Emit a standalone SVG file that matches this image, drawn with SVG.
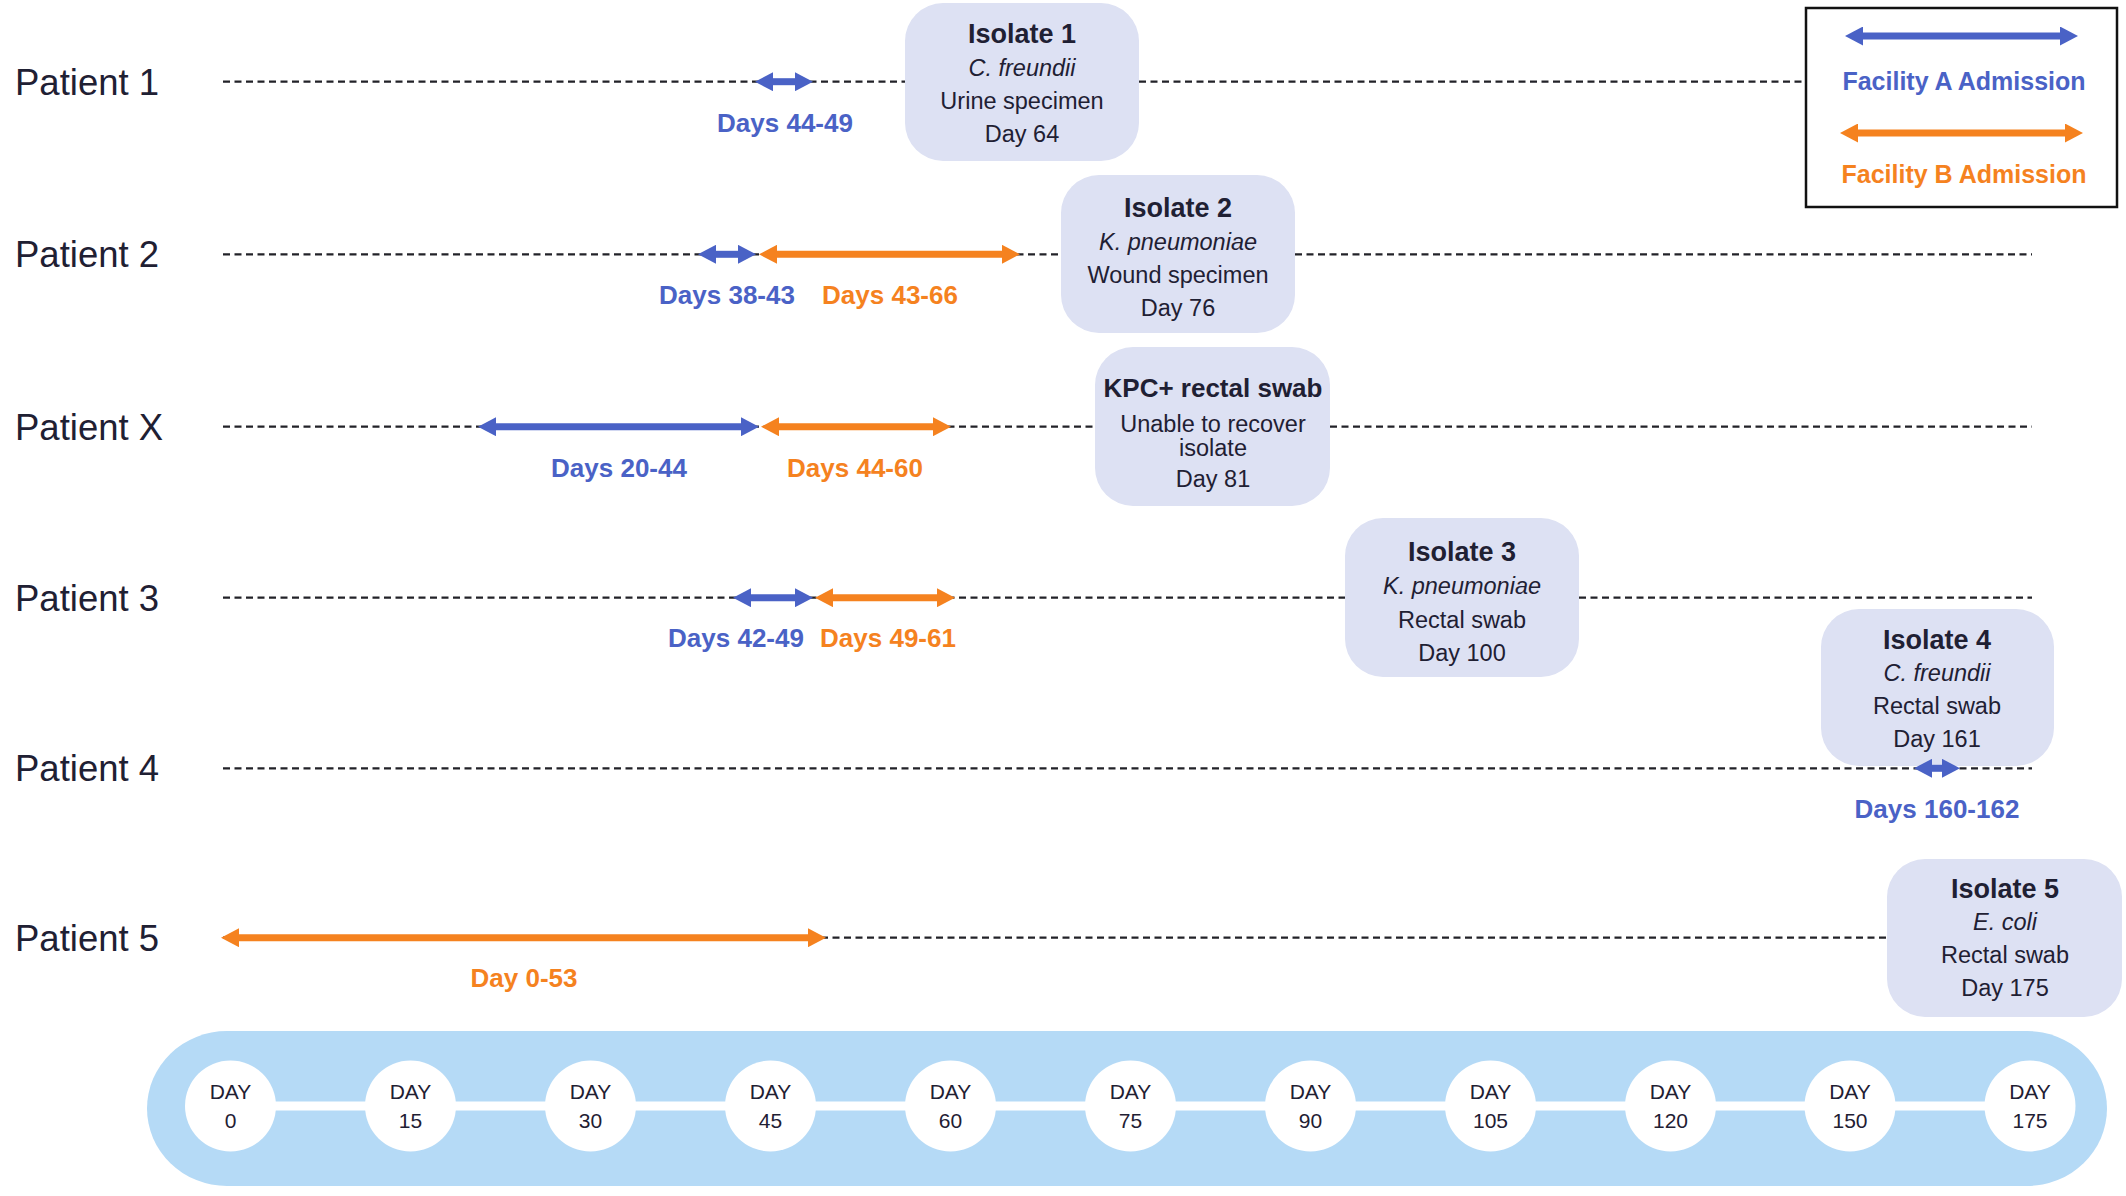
<svg xmlns="http://www.w3.org/2000/svg" width="2126" height="1196" viewBox="0 0 2126 1196">
<style>
  text { font-family: "Liberation Sans", Arial, sans-serif; }
  .pat { font-size: 36.5px; fill: #1f2033; }
  .dash { stroke: #222228; stroke-width: 2.3; stroke-dasharray: 7 4.5; fill: none; }
  .ab { stroke: #4a62c6; stroke-width: 7; fill: none; }
  .ao { stroke: #f5821f; stroke-width: 7; fill: none; }
  .lb { font-size: 26px; font-weight: bold; fill: #4a62c6; text-anchor: middle; }
  .lo { font-size: 26px; font-weight: bold; fill: #f5821f; text-anchor: middle; }
  .box { fill: #dde1f3; }
  .bt { font-size: 27px; font-weight: bold; fill: #1f2033; text-anchor: middle; }
  .bs { font-size: 23.5px; fill: #1f2033; text-anchor: middle; }
  .bi { font-size: 23.5px; font-style: italic; fill: #1f2033; text-anchor: middle; }
  .day { font-size: 21px; fill: #1f2033; text-anchor: middle; }
</style>
<defs>
  <marker id="hb" viewBox="0 0 18 19" markerWidth="18" markerHeight="19" refX="1" refY="9.5" markerUnits="userSpaceOnUse" orient="auto-start-reverse">
    <path d="M0,0 L18,9.5 L0,19 z" fill="#4a62c6"/>
  </marker>
  <marker id="ho" viewBox="0 0 18 19" markerWidth="18" markerHeight="19" refX="1" refY="9.5" markerUnits="userSpaceOnUse" orient="auto-start-reverse">
    <path d="M0,0 L18,9.5 L0,19 z" fill="#f5821f"/>
  </marker>
</defs>
<rect width="2126" height="1196" fill="#ffffff"/>

<g id="patient-labels">
  <text class="pat" x="15" y="95">Patient 1</text>
  <text class="pat" x="15" y="267">Patient 2</text>
  <text class="pat" x="15" y="440">Patient X</text>
  <text class="pat" x="15" y="611">Patient 3</text>
  <text class="pat" x="15" y="781">Patient 4</text>
  <text class="pat" x="15" y="951">Patient 5</text>
</g>

<g id="isolate1">
  <rect class="box" x="905" y="3" width="234" height="158" rx="38"/>
  <text class="bt" x="1022" y="43">Isolate 1</text>
  <text class="bi" x="1022" y="76">C. freundii</text>
  <text class="bs" x="1022" y="109">Urine specimen</text>
  <text class="bs" x="1022" y="142">Day 64</text>
</g>
<g id="isolate2">
  <rect class="box" x="1061" y="175" width="234" height="158" rx="38"/>
  <text class="bt" x="1178" y="217">Isolate 2</text>
  <text class="bi" x="1178" y="250">K. pneumoniae</text>
  <text class="bs" x="1178" y="283">Wound specimen</text>
  <text class="bs" x="1178" y="316">Day 76</text>
</g>
<g id="kpc-swab">
  <rect class="box" x="1095" y="347" width="235" height="159" rx="38"/>
  <text class="bt" x="1213" y="397" style="font-size:26px">KPC+ rectal swab</text>
  <text class="bs" x="1213" y="432">Unable to recover</text>
  <text class="bs" x="1213" y="456">isolate</text>
  <text class="bs" x="1213" y="487">Day 81</text>
</g>
<g id="isolate3">
  <rect class="box" x="1345" y="518" width="234" height="159" rx="38"/>
  <text class="bt" x="1462" y="561">Isolate 3</text>
  <text class="bi" x="1462" y="594">K. pneumoniae</text>
  <text class="bs" x="1462" y="628">Rectal swab</text>
  <text class="bs" x="1462" y="661">Day 100</text>
</g>
<g id="isolate4">
  <rect class="box" x="1821" y="609" width="233" height="157" rx="38"/>
  <text class="bt" x="1937" y="649">Isolate 4</text>
  <text class="bi" x="1937" y="681">C. freundii</text>
  <text class="bs" x="1937" y="714">Rectal swab</text>
  <text class="bs" x="1937" y="747">Day 161</text>
</g>
<g id="isolate5">
  <rect class="box" x="1887" y="859" width="235" height="158" rx="38"/>
  <text class="bt" x="2005" y="898">Isolate 5</text>
  <text class="bi" x="2005" y="930">E. coli</text>
  <text class="bs" x="2005" y="963">Rectal swab</text>
  <text class="bs" x="2005" y="996">Day 175</text>
</g>

<g id="legend">
  <rect x="1806" y="8" width="311" height="199" fill="#ffffff" stroke="#111111" stroke-width="2.5"/>
  <line class="ab" x1="1862" y1="36" x2="2061" y2="36" marker-start="url(#hb)" marker-end="url(#hb)"/>
  <text class="lb" x="1964" y="90" style="font-size:25px">Facility A Admission</text>
  <line class="ao" x1="1857" y1="133" x2="2066" y2="133" marker-start="url(#ho)" marker-end="url(#ho)"/>
  <text class="lo" x="1964" y="183" style="font-size:25px">Facility B Admission</text>
</g>

<g id="connectors">
  <line class="dash" x1="223" y1="81.7" x2="905" y2="81.7"/>
  <line class="dash" x1="1139" y1="81.7" x2="1806" y2="81.7"/>
  <line class="dash" x1="223" y1="254.3" x2="1061" y2="254.3"/>
  <line class="dash" x1="1295" y1="254.3" x2="2032" y2="254.3"/>
  <line class="dash" x1="223" y1="426.7" x2="1095" y2="426.7"/>
  <line class="dash" x1="1330" y1="426.7" x2="2032" y2="426.7"/>
  <line class="dash" x1="223" y1="597.7" x2="1345" y2="597.7"/>
  <line class="dash" x1="1579" y1="597.7" x2="2032" y2="597.7"/>
  <line class="dash" x1="223" y1="768.3" x2="2032" y2="768.3"/>
  <line class="dash" x1="223" y1="937.7" x2="1887" y2="937.7"/>

  <line class="ab" x1="772" y1="81.7" x2="796" y2="81.7" marker-start="url(#hb)" marker-end="url(#hb)"/>
  <line class="ab" x1="715" y1="254.3" x2="739" y2="254.3" marker-start="url(#hb)" marker-end="url(#hb)"/>
  <line class="ao" x1="776" y1="254.3" x2="1003" y2="254.3" marker-start="url(#ho)" marker-end="url(#ho)"/>
  <line class="ab" x1="495" y1="426.7" x2="742" y2="426.7" marker-start="url(#hb)" marker-end="url(#hb)"/>
  <line class="ao" x1="778" y1="426.7" x2="934" y2="426.7" marker-start="url(#ho)" marker-end="url(#ho)"/>
  <line class="ab" x1="750" y1="597.7" x2="796" y2="597.7" marker-start="url(#hb)" marker-end="url(#hb)"/>
  <line class="ao" x1="832" y1="597.7" x2="938" y2="597.7" marker-start="url(#ho)" marker-end="url(#ho)"/>
  <line class="ab" x1="1931" y1="768.3" x2="1943" y2="768.3" marker-start="url(#hb)" marker-end="url(#hb)"/>
  <line class="ao" x1="238" y1="937.7" x2="809" y2="937.7" marker-start="url(#ho)" marker-end="url(#ho)"/>
</g>

<g id="stay-labels">
  <text class="lb" x="785" y="132">Days 44-49</text>
  <text class="lb" x="727" y="304">Days 38-43</text>
  <text class="lo" x="890" y="304">Days 43-66</text>
  <text class="lb" x="619" y="477">Days 20-44</text>
  <text class="lo" x="855" y="477">Days 44-60</text>
  <text class="lb" x="736" y="647">Days 42-49</text>
  <text class="lo" x="888" y="647">Days 49-61</text>
  <text class="lb" x="1937" y="818">Days 160-162</text>
  <text class="lo" x="524" y="987">Day 0-53</text>
</g>

<g id="timeline">
  <rect x="147" y="1031" width="1960" height="155" rx="80" ry="77.5" fill="#b5daf6"/>
  <line x1="230" y1="1106" x2="2030" y2="1106" stroke="#ffffff" stroke-width="9"/>
  <g fill="#ffffff">
    <circle cx="230.5" cy="1106" r="45.5"/>
    <circle cx="410.5" cy="1106" r="45.5"/>
    <circle cx="590.5" cy="1106" r="45.5"/>
    <circle cx="770.5" cy="1106" r="45.5"/>
    <circle cx="950.5" cy="1106" r="45.5"/>
    <circle cx="1130.5" cy="1106" r="45.5"/>
    <circle cx="1310.5" cy="1106" r="45.5"/>
    <circle cx="1490.5" cy="1106" r="45.5"/>
    <circle cx="1670.5" cy="1106" r="45.5"/>
    <circle cx="1850" cy="1106" r="45.5"/>
    <circle cx="2030" cy="1106" r="45.5"/>
  </g>
  <text class="day" x="230.5" y="1099">DAY</text><text class="day" x="230.5" y="1128">0</text>
  <text class="day" x="410.5" y="1099">DAY</text><text class="day" x="410.5" y="1128">15</text>
  <text class="day" x="590.5" y="1099">DAY</text><text class="day" x="590.5" y="1128">30</text>
  <text class="day" x="770.5" y="1099">DAY</text><text class="day" x="770.5" y="1128">45</text>
  <text class="day" x="950.5" y="1099">DAY</text><text class="day" x="950.5" y="1128">60</text>
  <text class="day" x="1130.5" y="1099">DAY</text><text class="day" x="1130.5" y="1128">75</text>
  <text class="day" x="1310.5" y="1099">DAY</text><text class="day" x="1310.5" y="1128">90</text>
  <text class="day" x="1490.5" y="1099">DAY</text><text class="day" x="1490.5" y="1128">105</text>
  <text class="day" x="1670.5" y="1099">DAY</text><text class="day" x="1670.5" y="1128">120</text>
  <text class="day" x="1850" y="1099">DAY</text><text class="day" x="1850" y="1128">150</text>
  <text class="day" x="2030" y="1099">DAY</text><text class="day" x="2030" y="1128">175</text>
</g>
</svg>
